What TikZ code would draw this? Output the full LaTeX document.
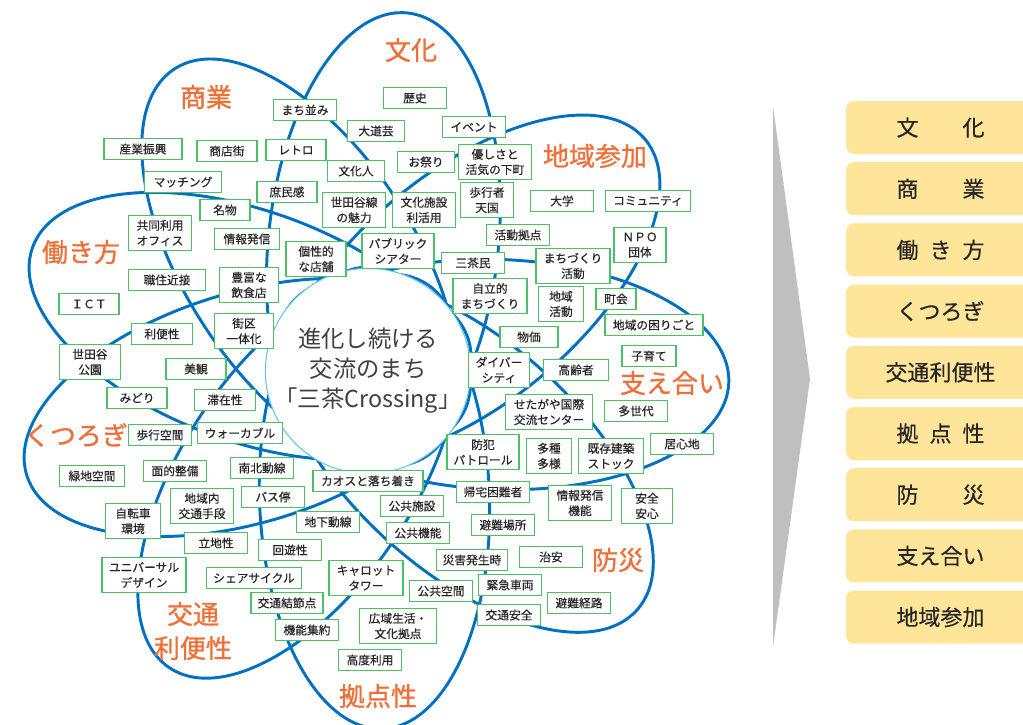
\documentclass[tikz,border=0pt]{standalone}
\usepackage{fontspec}
\setmainfont{Noto Sans CJK JP}
\newfontfamily\themefont[FakeBold=1]{Noto Sans CJK JP}
\newfontfamily\termfont[FakeBold=0.4]{Noto Sans CJK JP}
\usetikzlibrary{positioning}
\definecolor{petalblue}{RGB}{0,112,192}
\definecolor{termgreen}{RGB}{76,192,104}
\definecolor{themeorange}{RGB}{238,112,56}
\definecolor{ringblue}{RGB}{100,196,240}
\definecolor{baryellow}{RGB}{255,229,153}
\definecolor{chevgray}{RGB}{191,191,191}
\definecolor{inkgray}{RGB}{38,38,38}
\definecolor{hubgray}{RGB}{64,64,64}
\tikzset{
petal/.style={draw=petalblue, line width=2.2pt},
term/.style={draw=termgreen, line width=1.1pt, fill=white, text=inkgray, align=center, inner sep=1pt, minimum width=47pt, minimum height=15.75pt, font=\termfont\fontsize{8.8}{11.5}\selectfont},
tall/.style={minimum height=26.25pt},
theme/.style={text=themeorange, align=center, font=\themefont\fontsize{19.5}{25.5}\selectfont},
bar/.style={fill=baryellow, rounded corners=6pt, minimum width=141.75pt, minimum height=39.75pt, text=inkgray, font=\termfont\fontsize{16.5}{16.5}\selectfont},
}
\begin{document}
\begin{tikzpicture}[x=0.75pt, y=-0.75pt]
\useasboundingbox (0,0) rectangle (1023,724);
\foreach \a in {84,40,-2,-42,-88,-124,-163,160,123}
\draw[petal, rotate around={\a:({370+128*cos(\a)},{370-128*sin(\a)})}] ({370+128*cos(\a)},{370-128*sin(\a)}) ellipse [x radius=231, y radius=115];
\node[draw=ringblue, line width=0.8pt, fill=white, circle, minimum size=144pt, inner sep=0pt, align=center, text=hubgray, font=\fontsize{17.5}{22.5}\selectfont] (hub) at (368,371) {進化し続ける\\交流のまち\\「三茶Crossing」};
\node[term] (machinami) at (305,110) {まち並み};
\node[term] (rekishi) at (415,98) {歴史};
\node[term, minimum width=43pt] (daidogei) at (376,131) {大道芸};
\node[term] (event) at (474,127) {イベント};
\node[term, minimum width=43pt] (omatsuri) at (426,162) {お祭り};
\node[term, tall, minimum width=55pt] (yasashisa) at (495,162) {優しさと\\活気の下町};
\node[term, minimum width=43pt] (bunkajin) at (356,171) {文化人};
\node[term, tall] (setagayasen) at (354,210) {世田谷線\\の魅力};
\node[term, tall] (bunkashisetsu) at (424,210) {文化施設\\利活用};
\node[term, tall, minimum width=40pt] (hokosha) at (487,200) {歩行者\\天国};
\node[term] (katsudo) at (518,235) {活動拠点};
\node[term, tall, minimum width=54pt] (public) at (398,251) {パブリック\\シアター};
\node[term] (sanchamin) at (473,263) {三茶民};
\node[term, tall, minimum width=55.5pt] (jiritsu) at (490,296) {自立的\\まちづくり};
\node[term, minimum width=58.5pt] (sangyo) at (143,149) {産業振興};
\node[term, minimum width=45pt] (shotengai) at (227,151) {商店街};
\node[term, minimum width=45pt] (retro) at (296,150) {レトロ};
\node[term, minimum width=58pt] (matching) at (183,182) {マッチング};
\node[term, minimum width=45pt] (shomin) at (287,192) {庶民感};
\node[term, minimum width=37.5pt] (meibutsu) at (225,210) {名物};
\node[term, tall] (kyodo) at (160,233) {共同利用\\オフィス};
\node[term, minimum width=49pt] (johohasshin) at (247,239) {情報発信};
\node[term, tall, minimum width=45pt] (kosei) at (316,259) {個性的\\な店舗};
\node[term, minimum width=58pt] (shokuju) at (167,280) {職住近接};
\node[term, tall, minimum width=44pt] (hofu) at (249,285) {豊富な\\飲食店};
\node[term] (daigaku) at (562,201) {大学};
\node[term, minimum width=64pt] (community) at (648,201) {コミュニティ};
\node[term, tall, minimum width=39pt] (npo) at (640,245) {ＮＰＯ\\団体};
\node[term, tall, minimum width=55.5pt] (machizukuri) at (573,266) {まちづくり\\活動};
\node[term, tall, minimum width=34pt] (chiikikatsudo) at (561,304) {地域\\活動};
\node[term, minimum width=30pt] (chokai) at (616,299) {町会};
\node[term, minimum width=73.5pt] (komarigoto) at (654,325) {地域の困りごと};
\node[term, minimum width=43.5pt] (bukka) at (529,337) {物価};
\node[term, minimum width=40.5pt] (kosodate) at (649,356) {子育て};
\node[term, minimum width=49pt] (koreisha) at (576,370) {高齢者};
\node[term, tall, minimum width=46pt] (diversity) at (499,370) {ダイバー\\シティ};
\node[term, tall, minimum width=65pt] (kokusai) at (549,412) {せたがや国際\\交流センター};
\node[term] (tasedai) at (636,411) {多世代};
\node[term] (igokochi) at (682,444) {居心地};
\node[term, tall, minimum width=34pt] (tashu) at (549,456) {多種\\多様};
\node[term, tall, minimum width=49pt] (kizon) at (611,456) {既存建築\\ストック};
\node[term, tall, minimum width=54pt] (bohan) at (483,452) {防犯\\パトロール};
\node[term, minimum width=55pt] (kitaku) at (493,492) {帰宅困難者};
\node[term, tall] (johokino) at (580,503) {情報発信\\機能};
\node[term, tall, minimum width=38pt] (anzen) at (647,506) {安全\\安心};
\node[term] (hinanbasho) at (503,525) {避難場所};
\node[term, minimum width=53pt] (saigai) at (472,560) {災害発生時};
\node[term] (chian) at (551,557) {治安};
\node[term] (kinkyu) at (510,585) {緊急車両};
\node[term] (hinankeiro) at (579,603) {避難経路};
\node[term] (kotsuanzen) at (509,615) {交通安全};
\node[term, minimum width=82.5pt] (chaos) at (368,481) {カオスと落ち着き};
\node[term] (kokyoshisetsu) at (412,506) {公共施設};
\node[term] (kokyokino) at (418,533) {公共機能};
\node[term, tall, minimum width=55.5pt] (carrot) at (366,578) {キャロット\\タワー};
\node[term] (kokyokukan) at (441,591) {公共空間};
\node[term, tall, minimum width=58pt] (koiki) at (398,626) {広域生活・\\文化拠点};
\node[term] (kodo) at (370,660) {高度利用};
\node[term] (chikadosen) at (328,522) {地下動線};
\node[term, tall] (chiikinai) at (202,506) {地域内\\交通手段};
\node[term] (busstop) at (273,497) {バス停};
\node[term, tall, minimum width=41pt] (jitensha) at (133,521) {自転車\\環境};
\node[term] (ricchi) at (216,543) {立地性};
\node[term] (kaiyu) at (290,550) {回遊性};
\node[term, tall, minimum width=63pt] (universal) at (144,575) {ユニバーサル\\デザイン};
\node[term, minimum width=71pt] (sharecycle) at (254,578) {シェアサイクル};
\node[term, minimum width=54pt] (kessetsu) at (287,603) {交通結節点};
\node[term] (kinoshuyaku) at (307,630) {機能集約};
\node[term, minimum width=45pt] (ict) at (89,304) {ＩＣＴ};
\node[term, minimum width=46pt] (ribensei) at (162,334) {利便性};
\node[term, tall, minimum width=44pt] (gaiku) at (244,331) {街区\\一体化};
\node[term, tall, minimum width=46pt] (setagayakoen) at (90,362) {世田谷\\公園};
\node[term, minimum width=45pt] (bikan) at (196,369) {美観};
\node[term, minimum width=45pt] (midori) at (137,398) {みどり};
\node[term, minimum width=46pt] (taizai) at (225,400) {滞在性};
\node[term] (hoko) at (160,435) {歩行空間};
\node[term, minimum width=64pt] (walkable) at (240,433) {ウォーカブル};
\node[term, minimum width=49pt] (ryokuchi) at (92,476) {緑地空間};
\node[term] (menteki) at (175,471) {面的整備};
\node[term] (nanboku) at (262,468) {南北動線};
\node[theme] (tbunka) at (411,50) {文化};
\node[theme] (tshogyo) at (206,97) {商業};
\node[theme] (thataraki) at (81,252) {働き方};
\node[theme] (tkutsurogi) at (76,435) {くつろぎ};
\node[theme] (tkotsu) at (193,631) {交通\\利便性};
\node[theme] (tkyoten) at (378,696) {拠点性};
\node[theme] (tbosai) at (618,560) {防災};
\node[theme] (tsasae) at (672,383) {支え合い};
\node[theme] (tchiiki) at (595,156) {地域参加};
\fill[chevgray] (773,106) -- (810,379) -- (773,647) -- cycle;
\node[bar] (bbunka) at (940.5,127.5) {\makebox[4em]{文\hfill 化}};
\node[bar, below=5.75pt of bbunka] (bshogyo) {\makebox[4em]{商\hfill 業}};
\node[bar, below=5.75pt of bshogyo] (bhataraki) {\makebox[4em]{働\hfill き\hfill 方}};
\node[bar, below=5.75pt of bhataraki] (bkutsurogi) {くつろぎ};
\node[bar, below=5.75pt of bkutsurogi] (bkotsu) {交通利便性};
\node[bar, below=5.75pt of bkotsu] (bkyoten) {\makebox[4em]{拠\hfill 点\hfill 性}};
\node[bar, below=5.75pt of bkyoten] (bbosai) {\makebox[4em]{防\hfill 災}};
\node[bar, below=5.75pt of bbosai] (bsasae) {支え合い};
\node[bar, below=5.75pt of bsasae] (bchiiki) {地域参加};
\end{tikzpicture}
\end{document}
